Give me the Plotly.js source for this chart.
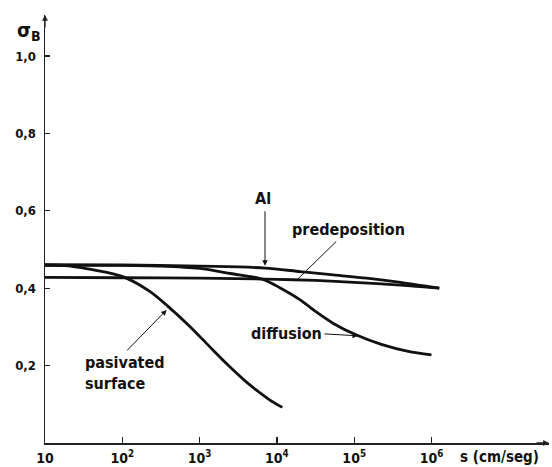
<!DOCTYPE html>
<html>
<head>
<meta charset="utf-8">
<script src="https://cdn.plot.ly/plotly-3.0.1.min.js"></script>
<style>html,body{margin:0;padding:0;background:#fff;}#chart{width:552px;height:467px;}</style>
</head>
<body>
<div id="chart"></div>
<script>
// s (cm/seg) values and sigma_B values
var alS = [10, 100, 1000, 3160, 7080, 20000, 50100, 145000, 398000, 1260000];
var alSigma = [0.460, 0.460, 0.457, 0.455, 0.452, 0.443, 0.435, 0.426, 0.415, 0.400];

var predepS = [10, 100, 1000, 10000, 31600, 100000, 398000, 1260000];
var predepSigma = [0.428, 0.427, 0.426, 0.423, 0.420, 0.415, 0.408, 0.400];

var diffS = [10, 100, 316, 1000, 2510, 6610, 11200, 20000, 31600, 53700, 107000, 224000, 501000, 1000000];
var diffSigma = [0.460, 0.459, 0.457, 0.451, 0.438, 0.423, 0.400, 0.370, 0.340, 0.309, 0.279, 0.255, 0.237, 0.228];

var pasS = [10, 19.95, 31.6, 56.2, 107, 229, 417, 759, 1349, 2455, 4467, 8128, 11750];
var pasSigma = [0.460, 0.458, 0.452, 0.443, 0.428, 0.391, 0.348, 0.300, 0.249, 0.197, 0.150, 0.111, 0.092];

var xTickVals = [10, 100, 1000, 10000, 100000, 1000000];
var xTickText = ['10', '10<sup>2</sup>', '10<sup>3</sup>', '10<sup>4</sup>', '10<sup>5</sup>', '10<sup>6</sup>'];
var yTickVals = [0.2, 0.4, 0.6, 0.8, 1.0];
var yTickText = ['0,2', '0,4', '0,6', '0,8', '1,0'];

var FONT = 'Liberation Sans Narrow, Arial Narrow, DejaVu Sans Condensed, sans-serif';
var lineStyle = {color: '#111', width: 2.8, shape: 'spline', smoothing: 0.8};

function tr(xs, ys) {
  return {x: xs, y: ys, type: 'scatter', mode: 'lines', line: lineStyle, hoverinfo: 'skip', showlegend: false};
}
var data = [tr(alS, alSigma), tr(predepS, predepSigma), tr(diffS, diffSigma), tr(pasS, pasSigma)];

function txt(x, y, t, opts) {
  var a = {x: x, y: y, xref: 'x', yref: 'y', text: t, showarrow: false,
           xanchor: 'center', yanchor: 'middle',
           font: {family: FONT, size: 16, color: '#111', weight: 'bold'}};
  for (var k in opts) a[k] = opts[k];
  return a;
}
function arr(x, y, ax, ay, head) {
  return {x: x, y: y, xref: 'x', yref: 'y', text: '', showarrow: true, ax: ax, ay: ay,
          arrowhead: head, arrowsize: 1.1, arrowwidth: 1, arrowcolor: '#111'};
}

var annotations = [
  txt(3.82, 0.633, 'Al'),
  arr(3.846, 0.458, 0, -56, 2),
  txt(4.92, 0.552, 'predeposition'),
  arr(4.256, 0.421, 41, -40, 0),
  txt(4.118, 0.284, 'diffusion'),
  arr(5.049, 0.277, -35, -2, 2),
  txt(1.488, 0.182, 'pasivated<br>surface', {xanchor: 'left', align: 'left'}),
  arr(2.574, 0.344, -41, 42, 2),
  {x: -0.06, y: 0.963, xref: 'paper', yref: 'paper', xanchor: 'left', yanchor: 'middle',
   text: 'σ<sub>B</sub>', showarrow: false,
   font: {family: FONT, size: 20, color: '#111', weight: 'bold'}},
  {x: 0.902, y: -0.033, xref: 'paper', yref: 'paper', xanchor: 'center', yanchor: 'middle',
   text: 's (cm/seg)', showarrow: false,
   font: {family: FONT, size: 15, color: '#111', weight: 'bold'}},
  // axis arrowheads
  {x: 0, y: 1, xref: 'paper', yref: 'paper', text: '', showarrow: true, ax: 0, ay: 14,
   arrowhead: 2, arrowsize: 0.9, arrowwidth: 1.3, arrowcolor: '#222'},
  {x: 1, y: 0, xref: 'paper', yref: 'paper', text: '', showarrow: true, ax: -14, ay: 0,
   arrowhead: 2, arrowsize: 0.9, arrowwidth: 1.3, arrowcolor: '#222'}
];

var layout = {
  width: 552, height: 467,
  margin: {l: 45, r: 3, t: 15, b: 24},
  paper_bgcolor: '#fff', plot_bgcolor: '#fff',
  font: {family: FONT, size: 14, color: '#111'},
  xaxis: {type: 'log', range: [1, 7.52], tickvals: xTickVals, ticktext: xTickText,
          ticks: 'inside', ticklen: 6, tickwidth: 1.3, tickcolor: '#222',
          showline: true, linecolor: '#222', linewidth: 1.5, showgrid: false, zeroline: false,
          tickfont: {family: FONT, size: 14, color: '#111', weight: 'bold'}, ticklabelstandoff: 2},
  yaxis: {range: [0, 1.106], tickvals: yTickVals, ticktext: yTickText,
          ticks: 'inside', ticklen: 5, tickwidth: 1.3, tickcolor: '#222',
          showline: true, linecolor: '#222', linewidth: 1.5, showgrid: false, zeroline: false,
          tickfont: {family: FONT, size: 13, color: '#111', weight: 'bold'}, ticklabelstandoff: 5},
  annotations: annotations
};

Plotly.newPlot('chart', data, layout, {staticPlot: true, displayModeBar: false});
</script>
</body>
</html>
